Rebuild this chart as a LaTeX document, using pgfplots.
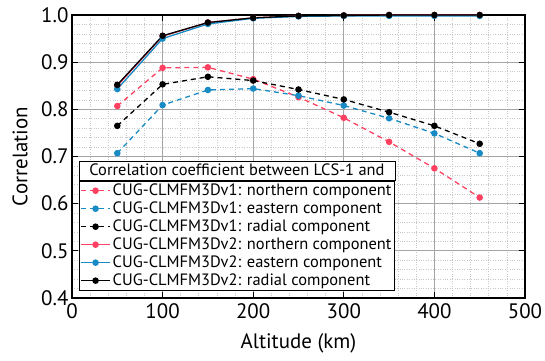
\documentclass[border=0pt]{standalone}
\usepackage{pgfplots}
\pgfplotsset{compat=1.18}
\usepackage{fontspec}
\setmainfont{PT Sans}
\usetikzlibrary{calc}
\definecolor{cred}{RGB}{255,64,96}
\definecolor{cblue}{RGB}{24,138,196}
\definecolor{majgrid}{RGB}{165,165,165}
\definecolor{mingrid}{RGB}{200,200,200}
\begin{document}
\begin{tikzpicture}
\useasboundingbox (-72bp,-63bp) rectangle (473bp,298bp);
\begin{axis}[
  at={(0,0)}, anchor=south west,
  scale only axis, width=453bp, height=283bp,
  xmin=0, xmax=500, ymin=0.4, ymax=1.0,
  xtick={0,100,...,500}, ytick={0.4,0.5,...,1.0},
  minor x tick num=4, minor y tick num=4,
  grid=both,
  major grid style={draw=majgrid, line width=0.9bp},
  minor grid style={draw=mingrid, dotted, line width=0.7bp},
  axis line style={line width=1.1bp, black},
  tick align=inside, major tick length=6bp, minor tick length=0bp,
  tick style={black, line width=0.8bp},
  yticklabel style={/pgf/number format/.cd, fixed, fixed zerofill, precision=1},
  /pgf/number format/assume math mode=true,
  tick label style={font=\fontsize{21}{24}\selectfont},
  xticklabel style={yshift=-2bp},
  label style={font=\fontsize{21}{24}\selectfont},
  xlabel={Altitude (km)}, ylabel={Correlation},
  xlabel style={at={(axis description cs:0.5,-0.159)}, anchor=center},
  ylabel style={at={(axis description cs:-0.1148,0.5)}, anchor=center, rotate=0},
  legend cell align=left,
  legend style={name=L, at={(rel axis cs:0.0155,0.026)}, anchor=south west,
    font=\fontsize{16.5}{19}\selectfont, draw=black, line width=0.8bp,
    inner sep=1bp, row sep=0.8bp, fill=white},
  legend image code/.code={%
    \draw[mark repeat=2, mark phase=2] plot coordinates {(0bp,0bp) (14.5bp,0bp) (29bp,0bp)};},
  every axis plot/.append style={line width=1.3bp, mark=*, mark size=2.6bp},
]
\addplot[cred, dashed, dash pattern=on 5bp off 4bp, mark options={solid}] coordinates {
(50,0.807) (100,0.888) (150,0.889) (200,0.864) (250,0.826) (300,0.782) (350,0.731) (400,0.675) (450,0.613)};
\addlegendentry{CUG-CLMFM3Dv1: northern component}
\addplot[cblue, dashed, dash pattern=on 5bp off 4bp, mark options={solid}] coordinates {
(50,0.707) (100,0.809) (150,0.841) (200,0.844) (250,0.829) (300,0.808) (350,0.781) (400,0.749) (450,0.707)};
\addlegendentry{CUG-CLMFM3Dv1: eastern component}
\addplot[black, dashed, dash pattern=on 5bp off 4bp, mark options={solid}] coordinates {
(50,0.765) (100,0.853) (150,0.869) (200,0.861) (250,0.842) (300,0.821) (350,0.794) (400,0.765) (450,0.727)};
\addlegendentry{CUG-CLMFM3Dv1: radial component}
\addplot[cred] coordinates {
(50,0.850) (100,0.955) (150,0.984) (200,0.994) (250,0.998) (300,0.999) (350,1.000) (400,1.000) (450,1.000)};
\addlegendentry{CUG-CLMFM3Dv2: northern component}
\addplot[cblue] coordinates {
(50,0.843) (100,0.950) (150,0.981) (200,0.993) (250,0.997) (300,0.998) (350,0.998) (400,0.998) (450,0.998)};
\addlegendentry{CUG-CLMFM3Dv2: eastern component}
\addplot[black] coordinates {
(50,0.852) (100,0.956) (150,0.984) (200,0.994) (250,0.998) (300,0.999) (350,1.000) (400,1.000) (450,1.000)};
\addlegendentry{CUG-CLMFM3Dv2: radial component}
\end{axis}
\path let \p1=(L.north west), \p2=(L.north east) in
  node[draw=black, line width=0.8bp, fill=white, anchor=south west, minimum width=\x2-\x1, text height=12bp, text depth=3.5bp, inner sep=1.75bp, outer sep=0bp, font=\fontsize{16.5}{19}\selectfont] at (\p1) {Correlation coefficient between LCS-1 and};
\end{tikzpicture}
\end{document}
